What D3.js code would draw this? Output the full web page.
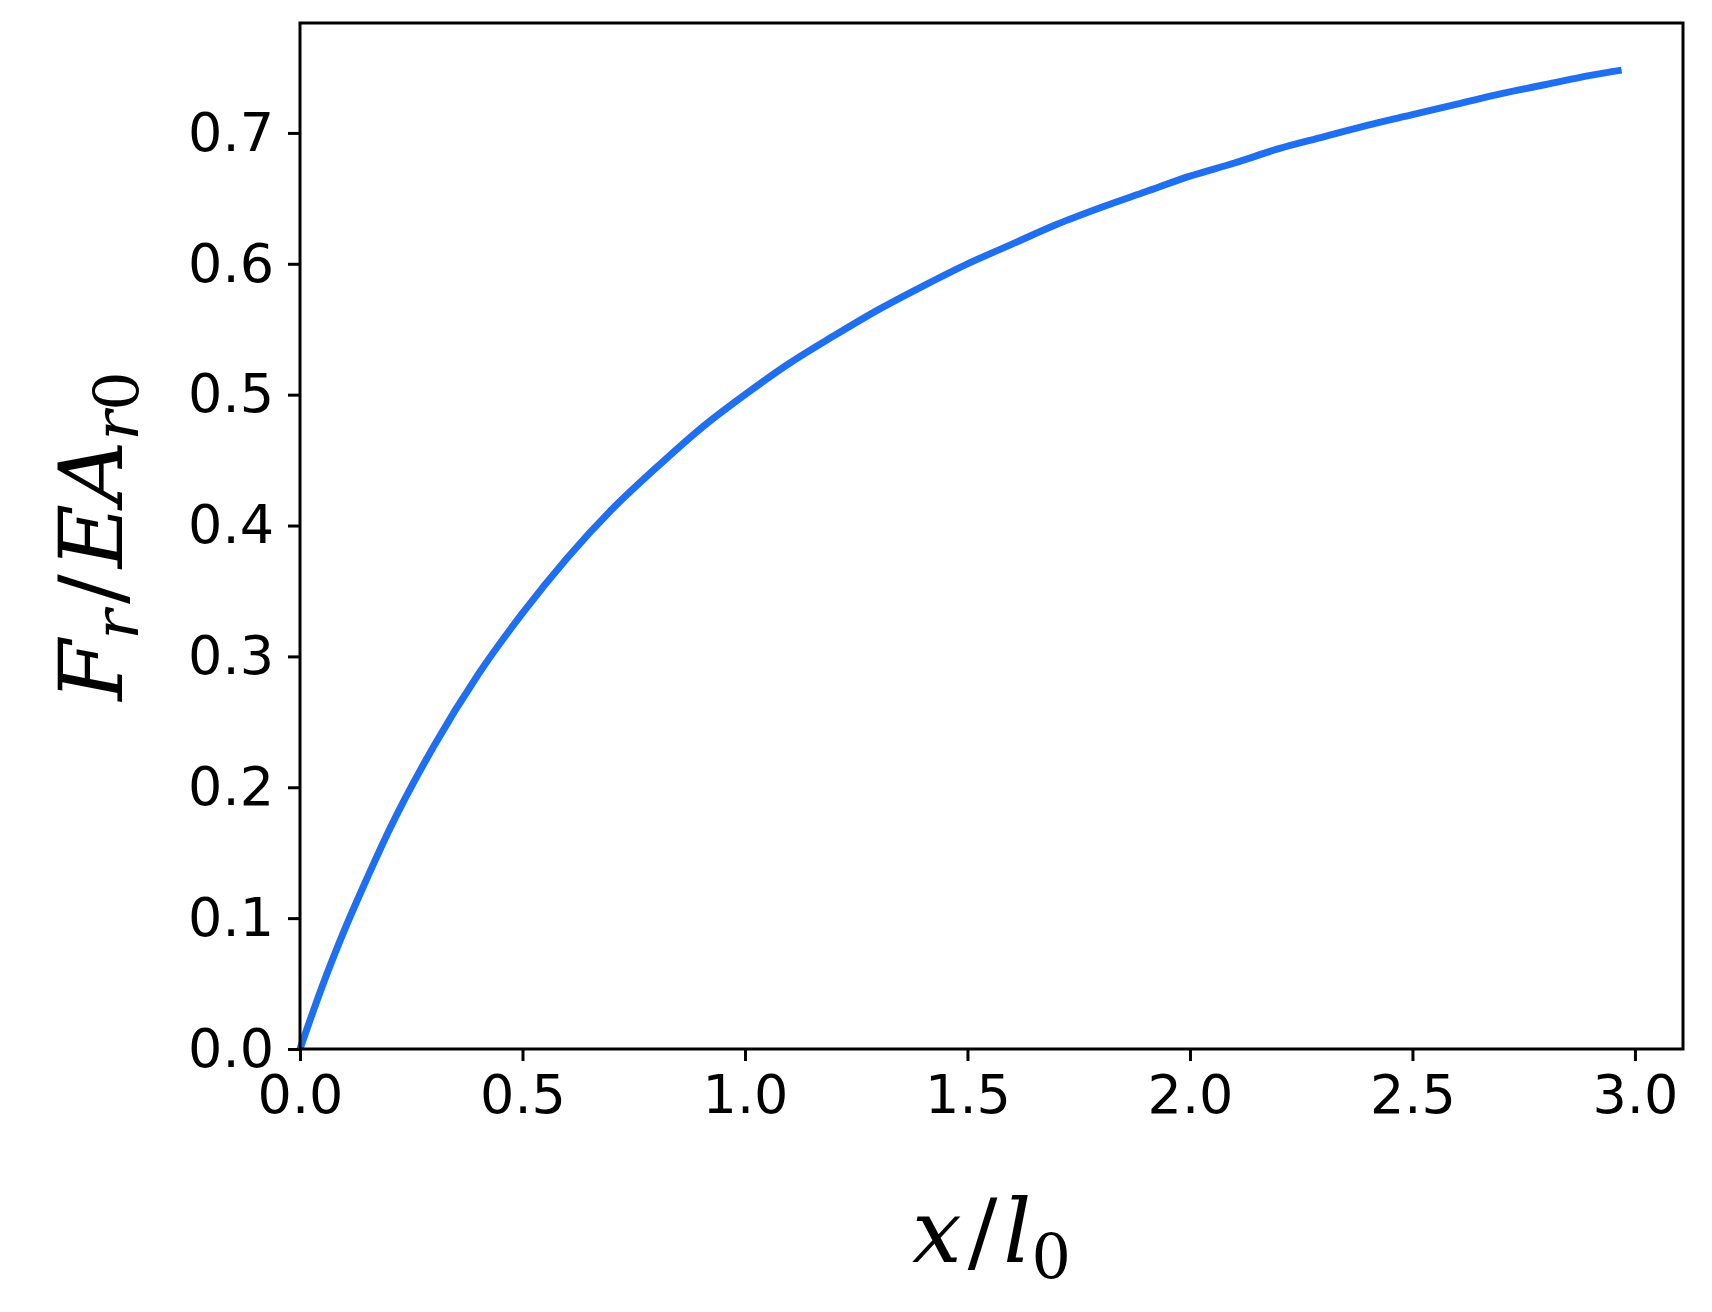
<!DOCTYPE html>
<html><head><meta charset="utf-8">
<script src="https://cdn.jsdelivr.net/npm/d3@7"></script>
<style>body{margin:0;background:#fff}svg{display:block}</style>
</head><body>
<svg id="c" width="1712" height="1312"></svg>
<script>
const xValues = [0,0.05,0.1,0.15,0.2,0.3,0.4,0.5,0.6,0.7,0.8,0.9,1.0,1.1,1.2,1.3,1.4,1.5,1.6,1.7,1.8,1.9,2.0,2.1,2.2,2.3,2.4,2.5,2.6,2.7,2.8,2.9,2.97];
const yValues = [0,0.048,0.091,0.130,0.167,0.231,0.286,0.333,0.375,0.412,0.444,0.474,0.500,0.524,0.545,0.565,0.583,0.600,0.615,0.630,0.643,0.655,0.667,0.677,0.688,0.697,0.706,0.714,0.722,0.730,0.737,0.744,0.748];
const xTicks = [0,0.5,1.0,1.5,2.0,2.5,3.0];
const yTicks = [0,0.1,0.2,0.3,0.4,0.5,0.6,0.7];

const svg = d3.select("#c");
const L=300,R=1683,T=23,B=1049;
const x = d3.scaleLinear().domain([0,3.108]).range([L,R]);
const y = d3.scaleLinear().domain([0,0.784]).range([B,T]);
const font = "DejaVu Sans, sans-serif";

const line = d3.line().curve(d3.curveMonotoneX).x((d,i)=>x(xValues[i])).y(d=>y(d));
svg.append("path").datum(yValues).attr("d",line).attr("fill","none")
  .attr("stroke","#1f6ff2").attr("stroke-width",7).attr("stroke-linecap","butt");

const gx = svg.append("g").attr("transform",`translate(0,${B})`)
  .call(d3.axisBottom(x).tickValues(xTicks).tickFormat(d3.format(".1f")).tickSize(12).tickPadding(14));
const gy = svg.append("g").attr("transform",`translate(${L},0)`)
  .call(d3.axisLeft(y).tickValues(yTicks).tickFormat(d3.format(".1f")).tickSize(12).tickPadding(14));
[gx,gy].forEach(g=>{
  g.select(".domain").remove();
  g.selectAll("line").attr("stroke","#000").attr("stroke-width",3);
  g.selectAll("text").attr("font-family",font).attr("font-size",54).attr("fill","#000");
});
svg.append("rect").attr("x",L).attr("y",T).attr("width",R-L).attr("height",B-T)
  .attr("fill","none").attr("stroke","#000").attr("stroke-width",3);

const mf = "'DejaVu Serif', 'Liberation Serif', serif";
const xl = svg.append("text").attr("x",(L+R)/2).attr("y",1262).attr("text-anchor","middle")
  .attr("font-family",mf).attr("font-size",88).attr("font-style","italic");
xl.append("tspan").text("x");
xl.append("tspan").attr("font-style","normal").attr("dx",6).text("/");
xl.append("tspan").attr("dx",6).text("l");
xl.append("tspan").attr("font-size",62).attr("dy",16).attr("font-style","normal").text("0");

const yl = svg.append("text").attr("transform",`translate(122,${(T+B)/2}) rotate(-90)`)
  .attr("text-anchor","middle").attr("font-family",mf).attr("font-size",88).attr("font-style","italic");
yl.append("tspan").text("F");
yl.append("tspan").attr("font-size",62).attr("dy",16).text("r");
yl.append("tspan").attr("dy",-16).attr("dx",6).attr("font-style","normal").text("/");
yl.append("tspan").attr("dx",6).text("EA");
yl.append("tspan").attr("font-size",62).attr("dy",16).text("r");
yl.append("tspan").attr("font-size",62).attr("font-style","normal").text("0");
</script>
</body></html>
